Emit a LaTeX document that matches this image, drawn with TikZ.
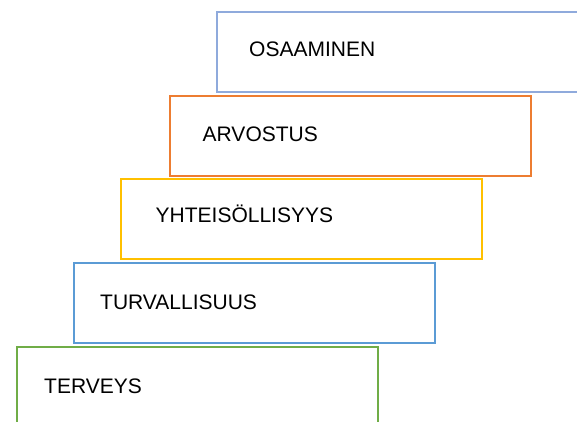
\documentclass[tikz,border=0pt]{standalone}
\usepackage{fontspec}
\setmainfont{Liberation Sans}
\usepackage{tikz}
\usetikzlibrary{positioning}
\definecolor{stepblue}{RGB}{143,170,220}
\definecolor{steporange}{RGB}{237,125,49}
\definecolor{stepgold}{RGB}{255,192,0}
\definecolor{stepsky}{RGB}{91,155,213}
\definecolor{stepgreen}{RGB}{112,173,71}

\begin{document}
\begin{tikzpicture}[x=1pt, y=-1pt,
  stepbox/.style={draw, line width=2pt, rectangle, inner sep=0pt,
    minimum width=361pt, minimum height=80pt, anchor=north west},
  steplabel/.style={anchor=base west, inner sep=0pt,
    font=\fontsize{21}{25}\selectfont, text=black}]
  \clip (0,0) rectangle (577,421);
  % steps, top to bottom
  \node[stepbox, draw=stepblue, minimum width=366pt] (osaaminen) at (216,11) {};
  \node[stepbox, draw=steporange] (arvostus) at (169,95) {};
  \node[stepbox, draw=stepgold] (yhteiso) at (120,178) {};
  \node[stepbox, draw=stepsky] (turva) at (73,262) {};
  \node[stepbox, draw=stepgreen, minimum height=90pt] (terveys) at (16,346) {};
  % labels
  \node[steplabel] (osaaminentxt) at (249,56) {OSAAMINEN};
  \node[steplabel] (arvostustxt) at (202.5,141.5) {ARVOSTUS};
  \node[steplabel] (yhteisotxt) at (155.5,222.5) {YHTEISÖLLISYYS};
  \node[steplabel] (turvatxt) at (100,309) {TURVALLISUUS};
  \node[steplabel] (terveystxt) at (44,393) {TERVEYS};
\end{tikzpicture}
\end{document}
